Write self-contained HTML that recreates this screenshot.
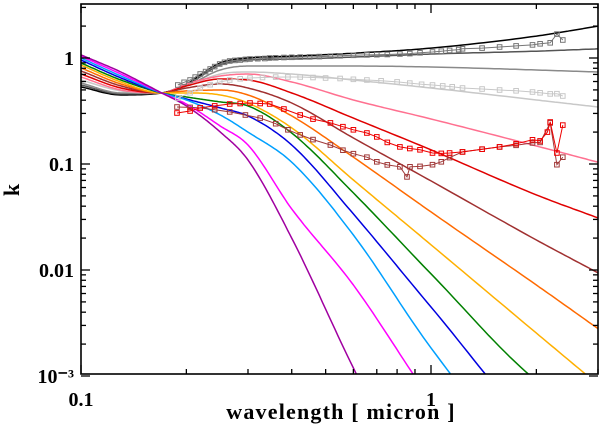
<!DOCTYPE html>
<html><head><meta charset="utf-8"><style>
html,body{margin:0;padding:0;background:#fff;width:600px;height:433px;overflow:hidden;}
svg{display:block;font-family:"Liberation Serif",serif;font-weight:bold;overflow:hidden;}
</style></head><body>
<svg id="chart" width="600" height="433" viewBox="0 0 600 433">
<defs><clipPath id="plotclip"><rect x="81" y="4" width="517" height="370"/></clipPath></defs>
<g id="series" clip-path="url(#plotclip)"></g>
<rect x="81" y="4" width="517" height="370" fill="none" stroke="#000" stroke-width="1.6"/>
<g id="ticks"></g>
<text x="14" y="190" font-size="22" transform="rotate(-90 14 190)" text-anchor="middle" dominant-baseline="middle">k</text>
<text x="341" y="419" font-size="22" letter-spacing="1.2" text-anchor="middle">wavelength [ micron ]</text>
</svg>
<script>
const wavelengths = [0.1,0.13,0.17,0.2,0.25,0.3,0.4,0.6,1,2,3];
const curveNames = ['black','darkgray','midgray','lightgray','pink','red','brown','orange','yellow','green','blue','lightblue','magenta','purple'];
const curveColors = ['#000000','#555555','#8a8a8a','#c8c8c8','#ff7090','#e00000','#a03030','#ff6a00','#ffb000','#008000','#0000e0','#00a0ff','#ff00ff','#a000a0'];
const kBlack = [0.533,0.448,0.468,0.569,0.897,1.00,1.04,1.11,1.24,1.61,2.00];
const kDarkgray = [0.556,0.458,0.468,0.556,0.859,0.957,0.978,1.02,1.09,1.16,1.22];
const kMidgray = [0.581,0.468,0.468,0.545,0.771,0.840,0.840,0.840,0.822,0.771,0.738];
const kLightgray = [0.620,0.489,0.468,0.545,0.706,0.738,0.706,0.620,0.521,0.402,0.345];
const kPink = [0.662,0.499,0.468,0.569,0.676,0.706,0.594,0.402,0.266,0.148,0.104];
const kRed = [0.706,0.521,0.468,0.545,0.634,0.620,0.468,0.271,0.136,0.0511,0.0310];
const kBrown = [0.754,0.545,0.468,0.521,0.569,0.521,0.376,0.176,0.0692,0.0192,0.0094];
const kOrange = [0.805,0.569,0.468,0.489,0.499,0.448,0.284,0.116,0.0353,0.00722,0.0028];
const kYellow = [0.859,0.594,0.468,0.468,0.448,0.376,0.219,0.0707,0.0173,0.00254,0.00083];
const kGreen = [0.897,0.620,0.468,0.429,0.385,0.353,0.196,0.0534,0.0092,0.00090,0.00039];
const kBlue = [0.957,0.648,0.468,0.410,0.338,0.284,0.151,0.0338,0.00448,0.00031,0.00013];
const kLightblue = [1.00,0.676,0.468,0.402,0.290,0.200,0.104,0.0214,0.00184,0.00011,0.000036];
const kMagenta = [1.04,0.706,0.468,0.368,0.228,0.151,0.0377,0.00722,0.00059,0.000028,0.0000078];
const kPurple = [1.07,0.738,0.468,0.353,0.200,0.109,0.020,0.00119,0.000044,0.000003,0.000001];
const curveValues = [kBlack,kDarkgray,kMidgray,kLightgray,kPink,kRed,kBrown,kOrange,kYellow,kGreen,kBlue,kLightblue,kMagenta,kPurple];

const obsDarkW = [0.189,0.197,0.205,0.212,0.219,0.227,0.234,0.241,0.249,0.257,0.266,0.275,0.285,0.295,0.304,0.32,0.335,0.346,0.36,0.38,0.4,0.423,0.45,0.48,0.516,0.55,0.6,0.656,0.7,0.75,0.815,0.87,0.93,1.01,1.07,1.13,1.2,1.23,1.4,1.57,1.75,1.95,2.05,2.19,2.29,2.38];
const obsDarkK = [0.556,0.59,0.62,0.66,0.706,0.745,0.787,0.83,0.878,0.91,0.937,0.95,0.957,0.97,0.978,0.985,0.99,1.00,1.005,1.01,1.015,1.02,1.025,1.03,1.04,1.05,1.06,1.07,1.075,1.08,1.09,1.1,1.12,1.14,1.16,1.18,1.2,1.22,1.24,1.27,1.3,1.33,1.36,1.39,1.68,1.48];
const obsLightW = [0.189,0.205,0.219,0.234,0.249,0.266,0.285,0.304,0.33,0.36,0.39,0.423,0.46,0.5,0.55,0.6,0.656,0.72,0.8,0.87,0.94,1.01,1.08,1.15,1.23,1.4,1.57,1.75,1.95,2.05,2.19,2.29,2.38];
const obsLightK = [0.419,0.47,0.521,0.56,0.594,0.62,0.636,0.648,0.655,0.66,0.662,0.662,0.655,0.648,0.64,0.63,0.62,0.61,0.595,0.58,0.565,0.556,0.545,0.535,0.521,0.51,0.499,0.49,0.478,0.47,0.458,0.46,0.438];
const obsRedW = [0.188,0.205,0.219,0.241,0.266,0.285,0.304,0.325,0.346,0.38,0.423,0.46,0.516,0.56,0.6,0.656,0.7,0.75,0.815,0.87,0.93,1.01,1.07,1.13,1.23,1.4,1.57,1.75,1.95,2.05,2.15,2.19,2.29,2.38];
const obsRedK = [0.303,0.316,0.338,0.353,0.368,0.372,0.376,0.372,0.368,0.33,0.29,0.265,0.244,0.225,0.21,0.196,0.18,0.16,0.145,0.14,0.136,0.127,0.126,0.127,0.130,0.138,0.145,0.155,0.169,0.165,0.200,0.249,0.127,0.233];
const obsBrownW = [0.188,0.205,0.219,0.241,0.266,0.295,0.325,0.36,0.39,0.423,0.46,0.516,0.56,0.6,0.656,0.7,0.75,0.815,0.854,0.871,0.93,1.01,1.07,1.13,1.23,1.4,1.57,1.75,1.95,2.05,2.19,2.29,2.38];
const obsBrownK = [0.345,0.342,0.338,0.325,0.310,0.29,0.271,0.24,0.21,0.188,0.17,0.151,0.135,0.125,0.116,0.105,0.098,0.094,0.0755,0.094,0.095,0.0985,0.105,0.115,0.130,0.138,0.145,0.15,0.158,0.16,0.244,0.0985,0.116];

const xTickMajor = [0.1,1];
const xTickLabels = ['0.1','1'];
const yTickMajor = [1,0.1,0.01,0.001];
const yTickLabels = ['1','0.1','0.01','10⁻³'];

const X0=81,X1=598,Y0=4,Y1=374;
function xScale(w){return X0+350*(Math.log10(w)+1);}
function yScale(k){return 58-106*Math.log10(k);}
const NS='http://www.w3.org/2000/svg';
const series=document.getElementById('series');
const ticks=document.getElementById('ticks');

// monotone cubic (Fritsch-Carlson), sampled and cut where it leaves the plot bottom
function monotonePoints(pts){
  const n=pts.length, xs=pts.map(p=>p[0]), ys=pts.map(p=>p[1]);
  const d=[],m=[];
  for(let i=0;i<n-1;i++) d.push((ys[i+1]-ys[i])/(xs[i+1]-xs[i]));
  m[0]=d[0]; m[n-1]=d[n-2];
  for(let i=1;i<n-1;i++){ m[i]=(d[i-1]*d[i]<=0)?0:(d[i-1]+d[i])/2; }
  for(let i=0;i<n-1;i++){
    if(d[i]===0){m[i]=0;m[i+1]=0;continue;}
    const a=m[i]/d[i], b=m[i+1]/d[i], s=a*a+b*b;
    if(s>9){const t=3/Math.sqrt(s);m[i]=t*a*d[i];m[i+1]=t*b*d[i];}
  }
  const out=[[xs[0],ys[0]]];
  for(let i=0;i<n-1;i++){
    const h=xs[i+1]-xs[i];
    for(let s=1;s<=20;s++){
      const t=s/20,t2=t*t,t3=t2*t;
      const y=(2*t3-3*t2+1)*ys[i]+(t3-2*t2+t)*h*m[i]+(-2*t3+3*t2)*ys[i+1]+(t3-t2)*h*m[i+1];
      const x=xs[i]+t*h;
      out.push([x,y]);
      if(y>Y1+4) return out;
    }
  }
  return out;
}
curveValues.forEach((vals,ci)=>{
  const pts=wavelengths.map((w,i)=>[xScale(w),yScale(vals[i])]);
  const p=document.createElementNS(NS,'polyline');
  p.setAttribute('points',monotonePoints(pts).map(q=>q[0].toFixed(1)+','+q[1].toFixed(1)).join(' '));
  p.setAttribute('fill','none');
  p.setAttribute('stroke',curveColors[ci]);
  p.setAttribute('stroke-width','1.5');
  p.setAttribute('stroke-linejoin','round');
  
  
  series.appendChild(p);
});
function drawObs(ws,ks,color,name){
  const g=document.createElementNS(NS,'g');
  
  
  const pl=document.createElementNS(NS,'polyline');
  pl.setAttribute('points',ws.map((w,i)=>xScale(w).toFixed(1)+','+yScale(ks[i]).toFixed(1)).join(' '));
  pl.setAttribute('fill','none');pl.setAttribute('stroke',color);pl.setAttribute('stroke-width','1');
  g.appendChild(pl);
  ws.forEach((w,i)=>{
    const r=document.createElementNS(NS,'rect');
    r.setAttribute('x',(xScale(w)-2.3).toFixed(1));r.setAttribute('y',(yScale(ks[i])-2.3).toFixed(1));
    r.setAttribute('width','4.6');r.setAttribute('height','4.6');
    r.setAttribute('fill','none');r.setAttribute('stroke',color);r.setAttribute('stroke-width','1');
    
    
    g.appendChild(r);
  });
  series.appendChild(g);
}
drawObs(obsLightW,obsLightK,'#c8c8c8','observed-lightgray-series');
drawObs(obsDarkW,obsDarkK,'#777777','observed-darkgray-series');
drawObs(obsBrownW,obsBrownK,'#a03838','observed-brown-series');
drawObs(obsRedW,obsRedK,'#ee0000','observed-red-series');

function line(x1,y1,x2,y2){
  const l=document.createElementNS(NS,'line');
  l.setAttribute('x1',x1);l.setAttribute('y1',y1);l.setAttribute('x2',x2);l.setAttribute('y2',y2);
  l.setAttribute('stroke','#000');l.setAttribute('stroke-width','1.3');
  ticks.appendChild(l);
}
function label(x,y,txt,anchor,name){
  const t=document.createElementNS(NS,'text');
  t.setAttribute('x',x);t.setAttribute('y',y);t.setAttribute('text-anchor',anchor);
  t.setAttribute('font-size','20');t.textContent=txt;
  
  
  ticks.appendChild(t);
}
for(let dec=0.1;dec<=1.01;dec*=10){
  for(let m=1;m<=9;m++){
    const w=dec*m; if(w>3.001) break;
    const x=xScale(w); const L=(m===1)?9:5;
    line(x,Y1,x,Y1-L); line(x,Y0,x,Y0+L);
  }
}
xTickMajor.forEach((w,i)=>label(xScale(w),406,xTickLabels[i],'middle','x-tick-label'));
for(let dec=0.001;dec<=1.01;dec*=10){
  for(let m=1;m<=9;m++){
    const k=dec*m; const y=yScale(k); if(y<Y0) break;
    const L=(m===1)?9:5;
    line(X0,y,X0+L,y); line(X1,y,X1-L,y);
  }
}
yTickMajor.forEach((k,i)=>label(74,yScale(k)+7,yTickLabels[i],'end','y-tick-label'));
</script>
</body></html>
